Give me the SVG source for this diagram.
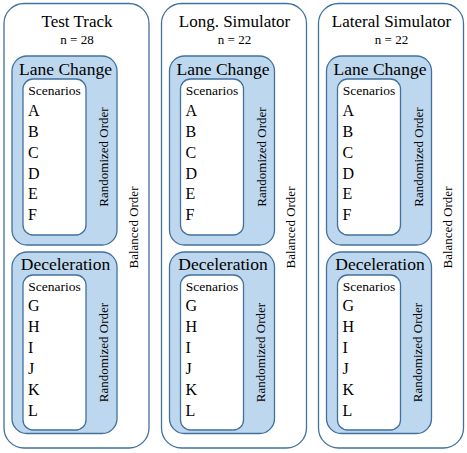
<svg xmlns="http://www.w3.org/2000/svg" width="467" height="453" viewBox="0 0 467 453">
<style>
.outer{fill:#fff;stroke:#41719C;stroke-width:1.3}
.block{fill:#BDD7EE;stroke:#41719C;stroke-width:1.3}
.inner{fill:#fff;stroke:#41719C;stroke-width:1.3}
.title{font-family:"Liberation Serif",serif;font-size:17px;text-anchor:middle}
.n{font-family:"Liberation Serif",serif;font-size:13px;text-anchor:middle}
.cat{font-family:"Liberation Serif",serif;font-size:17.5px;text-anchor:middle}
.sc{font-family:"Liberation Serif",serif;font-size:13.5px;text-anchor:middle}
.let{font-family:"Liberation Serif",serif;font-size:16px}
.rot{font-family:"Liberation Serif",serif;font-size:13px;text-anchor:middle}
</style>
<g id="test-track">
<rect class="outer" x="4" y="3.5" width="145" height="444.5" rx="20"/>
<text class="title" font-family="Liberation Serif" x="77" y="27">Test Track</text>
<text class="n" font-family="Liberation Serif" x="77" y="44">n = 28</text>
<text class="rot" font-family="Liberation Serif" transform="translate(137.5 227.5) rotate(-90)">Balanced Order</text>
<g id="tt-lane-change">
<rect class="block" x="12" y="56" width="105" height="189" rx="15"/>
<text class="cat" font-family="Liberation Serif" x="65.5" y="75">Lane Change</text>
<text class="rot" font-family="Liberation Serif" transform="translate(108 157) rotate(-90)">Randomized Order</text>
<g id="tt-lc-scenarios">
<rect class="inner" x="23" y="79" width="63" height="156" rx="10"/>
<text class="sc" font-family="Liberation Serif" x="54.5" y="95">Scenarios</text>
<text class="let" font-family="Liberation Serif" x="28" y="116">A</text>
<text class="let" font-family="Liberation Serif" x="28" y="137">B</text>
<text class="let" font-family="Liberation Serif" x="28" y="157.5">C</text>
<text class="let" font-family="Liberation Serif" x="28" y="178.5">D</text>
<text class="let" font-family="Liberation Serif" x="28" y="199">E</text>
<text class="let" font-family="Liberation Serif" x="28" y="220">F</text>
</g>
</g>
<g id="tt-deceleration">
<rect class="block" x="12" y="252" width="105" height="181.5" rx="15"/>
<text class="cat" font-family="Liberation Serif" x="65.5" y="270">Deceleration</text>
<text class="rot" font-family="Liberation Serif" transform="translate(107.5 352.5) rotate(-90)">Randomized Order</text>
<g id="tt-dc-scenarios">
<rect class="inner" x="23" y="275" width="63" height="155" rx="10"/>
<text class="sc" font-family="Liberation Serif" x="54.5" y="291">Scenarios</text>
<text class="let" font-family="Liberation Serif" x="28" y="311">G</text>
<text class="let" font-family="Liberation Serif" x="28" y="332">H</text>
<text class="let" font-family="Liberation Serif" x="28" y="353">I</text>
<text class="let" font-family="Liberation Serif" x="28" y="373.5">J</text>
<text class="let" font-family="Liberation Serif" x="28" y="394.5">K</text>
<text class="let" font-family="Liberation Serif" x="28" y="415.5">L</text>
</g>
</g>
</g>
<g id="long-simulator">
<rect class="outer" x="161.5" y="3.5" width="145" height="444.5" rx="20"/>
<text class="title" font-family="Liberation Serif" x="234.5" y="27">Long. Simulator</text>
<text class="n" font-family="Liberation Serif" x="234.5" y="44">n = 22</text>
<text class="rot" font-family="Liberation Serif" transform="translate(295 227.5) rotate(-90)">Balanced Order</text>
<g id="ls-lane-change">
<rect class="block" x="169.5" y="56" width="105" height="189" rx="15"/>
<text class="cat" font-family="Liberation Serif" x="223" y="75">Lane Change</text>
<text class="rot" font-family="Liberation Serif" transform="translate(265.5 157) rotate(-90)">Randomized Order</text>
<g id="ls-lc-scenarios">
<rect class="inner" x="180.5" y="79" width="63" height="156" rx="10"/>
<text class="sc" font-family="Liberation Serif" x="212" y="95">Scenarios</text>
<text class="let" font-family="Liberation Serif" x="185.5" y="116">A</text>
<text class="let" font-family="Liberation Serif" x="185.5" y="137">B</text>
<text class="let" font-family="Liberation Serif" x="185.5" y="157.5">C</text>
<text class="let" font-family="Liberation Serif" x="185.5" y="178.5">D</text>
<text class="let" font-family="Liberation Serif" x="185.5" y="199">E</text>
<text class="let" font-family="Liberation Serif" x="185.5" y="220">F</text>
</g>
</g>
<g id="ls-deceleration">
<rect class="block" x="169.5" y="252" width="105" height="181.5" rx="15"/>
<text class="cat" font-family="Liberation Serif" x="223" y="270">Deceleration</text>
<text class="rot" font-family="Liberation Serif" transform="translate(265 352.5) rotate(-90)">Randomized Order</text>
<g id="ls-dc-scenarios">
<rect class="inner" x="180.5" y="275" width="63" height="155" rx="10"/>
<text class="sc" font-family="Liberation Serif" x="212" y="291">Scenarios</text>
<text class="let" font-family="Liberation Serif" x="185.5" y="311">G</text>
<text class="let" font-family="Liberation Serif" x="185.5" y="332">H</text>
<text class="let" font-family="Liberation Serif" x="185.5" y="353">I</text>
<text class="let" font-family="Liberation Serif" x="185.5" y="373.5">J</text>
<text class="let" font-family="Liberation Serif" x="185.5" y="394.5">K</text>
<text class="let" font-family="Liberation Serif" x="185.5" y="415.5">L</text>
</g>
</g>
</g>
<g id="lateral-simulator">
<rect class="outer" x="318.5" y="3.5" width="145" height="444.5" rx="20"/>
<text class="title" font-family="Liberation Serif" x="391.5" y="27">Lateral Simulator</text>
<text class="n" font-family="Liberation Serif" x="391.5" y="44">n = 22</text>
<text class="rot" font-family="Liberation Serif" transform="translate(452 227.5) rotate(-90)">Balanced Order</text>
<g id="lat-lane-change">
<rect class="block" x="326.5" y="56" width="105" height="189" rx="15"/>
<text class="cat" font-family="Liberation Serif" x="380" y="75">Lane Change</text>
<text class="rot" font-family="Liberation Serif" transform="translate(422.5 157) rotate(-90)">Randomized Order</text>
<g id="lat-lc-scenarios">
<rect class="inner" x="337.5" y="79" width="63" height="156" rx="10"/>
<text class="sc" font-family="Liberation Serif" x="369" y="95">Scenarios</text>
<text class="let" font-family="Liberation Serif" x="342.5" y="116">A</text>
<text class="let" font-family="Liberation Serif" x="342.5" y="137">B</text>
<text class="let" font-family="Liberation Serif" x="342.5" y="157.5">C</text>
<text class="let" font-family="Liberation Serif" x="342.5" y="178.5">D</text>
<text class="let" font-family="Liberation Serif" x="342.5" y="199">E</text>
<text class="let" font-family="Liberation Serif" x="342.5" y="220">F</text>
</g>
</g>
<g id="lat-deceleration">
<rect class="block" x="326.5" y="252" width="105" height="181.5" rx="15"/>
<text class="cat" font-family="Liberation Serif" x="380" y="270">Deceleration</text>
<text class="rot" font-family="Liberation Serif" transform="translate(422 352.5) rotate(-90)">Randomized Order</text>
<g id="lat-dc-scenarios">
<rect class="inner" x="337.5" y="275" width="63" height="155" rx="10"/>
<text class="sc" font-family="Liberation Serif" x="369" y="291">Scenarios</text>
<text class="let" font-family="Liberation Serif" x="342.5" y="311">G</text>
<text class="let" font-family="Liberation Serif" x="342.5" y="332">H</text>
<text class="let" font-family="Liberation Serif" x="342.5" y="353">I</text>
<text class="let" font-family="Liberation Serif" x="342.5" y="373.5">J</text>
<text class="let" font-family="Liberation Serif" x="342.5" y="394.5">K</text>
<text class="let" font-family="Liberation Serif" x="342.5" y="415.5">L</text>
</g>
</g>
</g>
<g id="connectors"/>
</svg>
